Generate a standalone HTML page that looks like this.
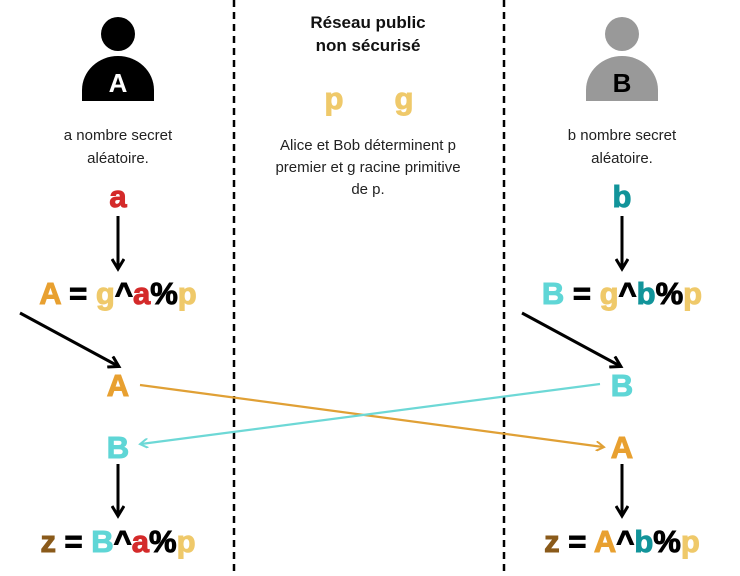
<!DOCTYPE html>
<html><head><meta charset="utf-8"><style>
html,body{margin:0;padding:0;background:#fff;}
svg{display:block;}
text{font-family:"Liberation Sans",sans-serif;}
.f{font-weight:bold;font-size:31px;text-anchor:middle;stroke-width:1;}
.t{font-size:15px;text-anchor:middle;fill:#222;}
</style></head><body>
<svg width="740" height="576" viewBox="0 0 740 576" xmlns="http://www.w3.org/2000/svg">
<defs>
<marker id="ab" markerWidth="14" markerHeight="14" refX="10" refY="7" orient="auto" markerUnits="userSpaceOnUse"><path d="M1,1 L11,7 L1,13" fill="none" stroke="#000" stroke-width="3"/></marker>
<marker id="ao" markerWidth="10" markerHeight="10" refX="7" refY="5" orient="auto" markerUnits="userSpaceOnUse"><path d="M0,0 L8,5 L0,10" fill="none" stroke="#e0a035" stroke-width="2"/></marker>
<marker id="ac" markerWidth="10" markerHeight="10" refX="7" refY="5" orient="auto" markerUnits="userSpaceOnUse"><path d="M0,0 L8,5 L0,10" fill="none" stroke="#6dd8d6" stroke-width="2"/></marker>
</defs>
<line x1="234" y1="0" x2="234" y2="576" stroke="#000" stroke-width="2.5" stroke-dasharray="7,5"/>
<line x1="504" y1="0" x2="504" y2="576" stroke="#000" stroke-width="2.5" stroke-dasharray="7,5"/>
<circle cx="118" cy="34" r="17" fill="#000"/>
<path d="M82,101 L82,90 A36,34 0 0 1 154,90 L154,101 Z" fill="#000"/>
<text x="118" y="92" class="f" style="font-size:26px" fill="#fff">A</text>
<circle cx="622" cy="34" r="17" fill="#999"/>
<path d="M586,101 L586,90 A36,34 0 0 1 658,90 L658,101 Z" fill="#999"/>
<text x="622" y="92" class="f" style="font-size:26px" fill="#000">B</text>
<text x="118" y="140" class="t">a nombre secret</text>
<text x="118" y="163" class="t">aléatoire.</text>
<text x="118" y="207" class="f" fill="#d42a2a" stroke="#d42a2a">a</text>
<line x1="118" y1="216" x2="118" y2="268" stroke="#000" stroke-width="3" marker-end="url(#ab)"/>
<text x="118" y="304" class="f"><tspan fill="#e8a030" stroke="#e8a030">A</tspan><tspan fill="#000" stroke="#000"> = </tspan><tspan fill="#efc96a" stroke="#efc96a">g</tspan><tspan fill="#000" stroke="#000">^</tspan><tspan fill="#d42a2a" stroke="#d42a2a">a</tspan><tspan fill="#000" stroke="#000">%</tspan><tspan fill="#efc96a" stroke="#efc96a">p</tspan></text>
<line x1="20" y1="313" x2="118" y2="366" stroke="#000" stroke-width="3" marker-end="url(#ab)"/>
<text x="118" y="396" class="f" fill="#e8a030" stroke="#e8a030">A</text>
<text x="118" y="458" class="f" fill="#5fd6d6" stroke="#5fd6d6">B</text>
<line x1="118" y1="464" x2="118" y2="515" stroke="#000" stroke-width="3" marker-end="url(#ab)"/>
<text x="118" y="552" class="f"><tspan fill="#8a5a1a" stroke="#8a5a1a">z</tspan><tspan fill="#000" stroke="#000"> = </tspan><tspan fill="#5fd6d6" stroke="#5fd6d6">B</tspan><tspan fill="#000" stroke="#000">^</tspan><tspan fill="#d42a2a" stroke="#d42a2a">a</tspan><tspan fill="#000" stroke="#000">%</tspan><tspan fill="#efc96a" stroke="#efc96a">p</tspan></text>
<text x="622" y="140" class="t">b nombre secret</text>
<text x="622" y="163" class="t">aléatoire.</text>
<text x="622" y="207" class="f" fill="#12949a" stroke="#12949a">b</text>
<line x1="622" y1="216" x2="622" y2="268" stroke="#000" stroke-width="3" marker-end="url(#ab)"/>
<text x="622" y="304" class="f"><tspan fill="#5fd6d6" stroke="#5fd6d6">B</tspan><tspan fill="#000" stroke="#000"> = </tspan><tspan fill="#efc96a" stroke="#efc96a">g</tspan><tspan fill="#000" stroke="#000">^</tspan><tspan fill="#12949a" stroke="#12949a">b</tspan><tspan fill="#000" stroke="#000">%</tspan><tspan fill="#efc96a" stroke="#efc96a">p</tspan></text>
<line x1="522" y1="313" x2="620" y2="366" stroke="#000" stroke-width="3" marker-end="url(#ab)"/>
<text x="622" y="396" class="f" fill="#5fd6d6" stroke="#5fd6d6">B</text>
<text x="622" y="458" class="f" fill="#e8a030" stroke="#e8a030">A</text>
<line x1="622" y1="464" x2="622" y2="515" stroke="#000" stroke-width="3" marker-end="url(#ab)"/>
<text x="622" y="552" class="f"><tspan fill="#8a5a1a" stroke="#8a5a1a">z</tspan><tspan fill="#000" stroke="#000"> = </tspan><tspan fill="#e8a030" stroke="#e8a030">A</tspan><tspan fill="#000" stroke="#000">^</tspan><tspan fill="#12949a" stroke="#12949a">b</tspan><tspan fill="#000" stroke="#000">%</tspan><tspan fill="#efc96a" stroke="#efc96a">p</tspan></text>
<line x1="140" y1="385" x2="603" y2="447" stroke="#e0a035" stroke-width="2.2" marker-end="url(#ao)"/>
<line x1="600" y1="384" x2="141" y2="444" stroke="#6dd8d6" stroke-width="2.2" marker-end="url(#ac)"/>
<text x="368" y="28" style="font-size:17px;font-weight:bold;text-anchor:middle" fill="#111">Réseau public</text>
<text x="368" y="51" style="font-size:17px;font-weight:bold;text-anchor:middle" fill="#111">non sécurisé</text>
<text x="334" y="109" class="f" fill="#efc96a" stroke="#efc96a">p</text>
<text x="404" y="109" class="f" fill="#efc96a" stroke="#efc96a">g</text>
<text x="368" y="150" class="t">Alice et Bob déterminent p</text>
<text x="368" y="172" class="t">premier et g racine primitive</text>
<text x="368" y="194" class="t">de p.</text>
</svg>
</body></html>
